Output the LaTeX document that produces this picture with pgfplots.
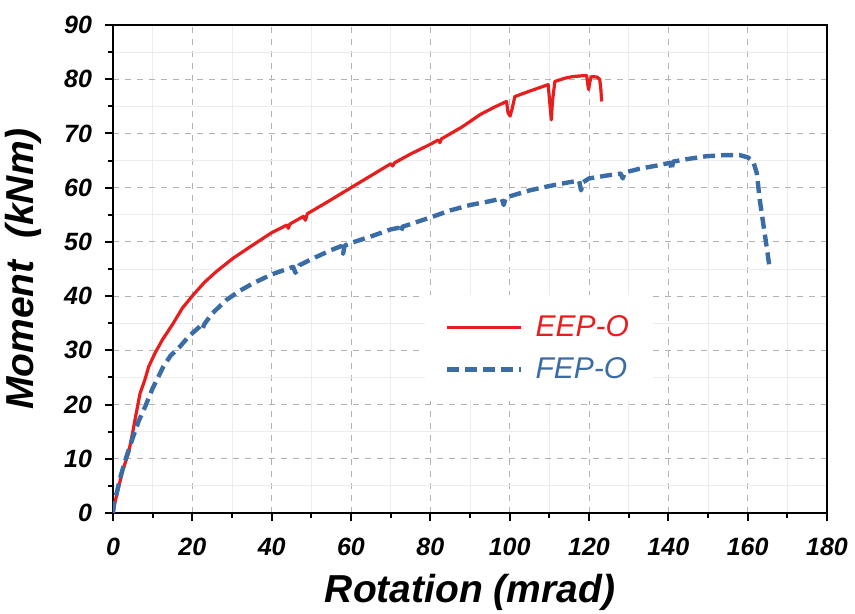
\documentclass[border=0pt]{standalone}
\usepackage{fontspec}
\setmainfont{Liberation Sans}
\usepackage{pgfplots}
\pgfplotsset{compat=1.18}
\definecolor{cred}{RGB}{232,30,30}
\definecolor{cblue}{RGB}{58,108,166}
\begin{document}
\begin{tikzpicture}
\path[use as bounding box] (-56.5pt,-50.5pt) rectangle (371pt,256.5pt);
\begin{axis}[
  scale only axis,
  width=357pt, height=244pt,
  xmin=0, xmax=180, ymin=0, ymax=90,
  xtick={0,20,...,180}, ytick={0,10,...,90},
  minor x tick num=1, minor y tick num=1,
  xtick pos=bottom, ytick pos=left,
  tick align=outside,
  major tick length=4pt, minor tick length=2.5pt,
  tick style={black, line width=1pt},
  axis line style={black, line width=1.3pt},
  grid=both,
  major grid style={gray!60, dashed, line width=0.4pt},
  minor grid style={gray!15, line width=0.4pt},
  /pgf/number format/assume math mode=true,
  ticklabel style={font=\fontsize{12.5}{14}\selectfont\bfseries\itshape},
  xticklabel style={yshift=-5pt},
  yticklabel style={xshift=-3pt},
  every axis x label/.style={at={(axis description cs:0.5,-0.1824)},anchor=base},
  every axis y label/.style={at={(axis description cs:-0.112,0.5)},rotate=90,anchor=base},
  xlabel={\fontsize{19.5}{22}\selectfont\bfseries\itshape Rotation (mrad)},
  ylabel={\fontsize{19.5}{22}\selectfont\bfseries\itshape Moment\ \ (kNm)},
  legend style={at={(axis cs:78.6,40.2)}, anchor=north west, draw=none, fill=white,
     font=\fontsize{15}{17}\selectfont\itshape, row sep=5pt, inner xsep=10pt, inner ysep=8pt},
  legend cell align=left,
  legend image code/.code={\draw[#1] (0pt,0pt) -- (37pt,0pt); \path (41pt,0pt);},
]
\addplot[cred, line width=1.6pt, line join=round] coordinates {
(0,0) (0.5,2) (1.5,5) (2.5,8) (3.9,11) (5,15) (5.5,17) (6.8,22) (8,24.5) (9,27)
(10.6,29.5) (12.5,32) (15.2,35) (17.5,37.8) (20.2,40.2) (23,42.5) (26,44.5)
(30.3,47) (35,49.3) (40,51.7) (43.8,53.1) (44.2,52.5) (44.6,53.3) (48,54.7)
(48.5,54) (49,55.2) (53.9,57.3) (60,60) (65,62.2) (70,64.4) (70.5,64.0) (71,64.6)
(75,66.2) (80,68) (82,68.8) (82.4,68.3) (82.8,69) (88,71.2) (92.6,73.5) (96,74.8)
(99.2,75.9) (99.6,73.8) (100.1,73.2) (100.6,74.5) (101.3,76.8) (105,77.8)
(109.7,79) (110.2,75) (110.5,72.5) (110.8,76) (111.4,79.6) (114,80.2) (116,80.5)
(119.4,80.7) (119.7,79) (119.9,78.1) (120.2,79.5) (120.6,80.5) (122,80.4)
(122.7,80) (123,78) (123.2,75.9)
};
\addlegendentry{\textcolor{cred}{EEP-O}}
\addplot[cblue, line width=2.2pt, dash pattern=on 6pt off 3pt, line join=round] coordinates {
(0,0) (0.3,2) (0.9,3.6) (2,7) (3.4,10.4) (5.1,14.1) (6.5,17) (8.1,19.6) (10,23)
(12.7,27) (14.5,29) (16.9,30.7) (19,32.5) (21.9,34.4) (22.5,33.8) (23,34.8)
(25,36.8) (28.6,39.3) (32,41) (35.4,42.4) (40,44) (45.4,45.4) (46,44.3)
(46.4,44.8) (47,45.7) (50,46.8) (55,48.5) (57.5,49.2) (58,47.8) (58.4,49.3)
(60,49.8) (65,51) (70,52.3) (72,52.6) (72.5,51.8) (73,52.8) (80,54.5) (85,55.8)
(90,56.8) (95,57.5) (98,58) (98.5,56.8) (99,58.2) (100,58.4) (105,59.5)
(110,60.3) (115,61) (117.5,61.3) (118,59.5) (118.5,61) (120,61.7) (125,62.3)
(128,62.6) (128.5,61.7) (129,62.8) (132.8,63.5) (138,64.2) (140.5,64.6)
(140.8,63.2) (141.2,64.8) (145,65.3) (149.6,65.8) (154,66) (158,66) (160,65.6)
(161.4,64.8) (162.3,62.7) (163,58) (163.9,53.5) (165,48) (165.6,44.8)
};
\addlegendentry{\textcolor{cblue}{FEP-O}}
\end{axis}
\end{tikzpicture}
\end{document}
